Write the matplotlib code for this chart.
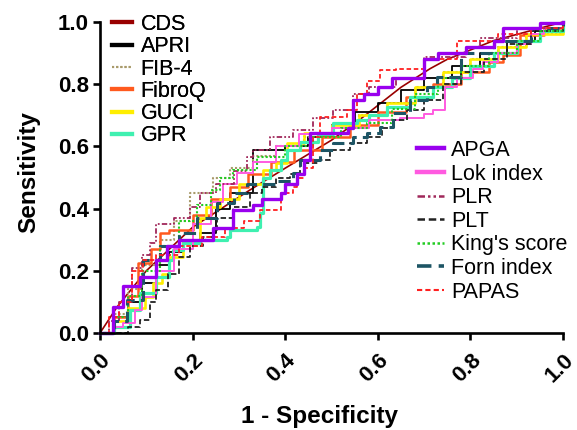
import matplotlib
matplotlib.use("Agg")
import matplotlib.pyplot as plt

plt.rcParams['font.family'] = ['Liberation Sans', 'DejaVu Sans']

# ---- data ----
cds_x = [0, 0.037, 0.1, 0.2, 0.324, 0.4, 0.5, 0.56, 0.65, 0.713, 0.75, 0.85, 0.95, 1.0]
cds_y = [0, 0.084, 0.2, 0.34, 0.46, 0.53, 0.62, 0.685, 0.79, 0.85, 0.88, 0.94, 0.98, 1.0]

apri_x = [0, 0.03, 0.06, 0.09, 0.12, 0.15, 0.18, 0.216, 0.25, 0.28, 0.33, 0.40, 0.45, 0.50, 0.55, 0.60, 0.65, 0.70, 0.76, 0.82, 0.88, 0.94, 1.0]
apri_y = [0, 0.05, 0.10, 0.16, 0.22, 0.26, 0.29, 0.32, 0.40, 0.45, 0.59, 0.60, 0.63, 0.67, 0.71, 0.74, 0.78, 0.82, 0.86, 0.90, 0.94, 0.97, 1.0]

fib4_x = [0, 0.03, 0.06, 0.09, 0.13, 0.16, 0.195, 0.244, 0.28, 0.33, 0.38, 0.44, 0.50, 0.56, 0.62, 0.68, 0.74, 0.80, 0.86, 0.92, 1.0]
fib4_y = [0, 0.06, 0.14, 0.22, 0.30, 0.36, 0.45, 0.50, 0.53, 0.57, 0.60, 0.63, 0.67, 0.70, 0.74, 0.79, 0.84, 0.88, 0.92, 0.96, 1.0]

fibroq_x = [0, 0.03, 0.06, 0.082, 0.11, 0.13, 0.15, 0.20, 0.24, 0.28, 0.32, 0.37, 0.42, 0.48, 0.54, 0.60, 0.66, 0.72, 0.78, 0.84, 0.87, 0.907, 0.96, 1.0]
fibroq_y = [0, 0.05, 0.12, 0.225, 0.27, 0.32, 0.33, 0.38, 0.43, 0.47, 0.51, 0.55, 0.59, 0.63, 0.67, 0.71, 0.76, 0.80, 0.84, 0.87, 0.894, 0.958, 0.98, 1.0]

guci_x = [0, 0.03, 0.06, 0.097, 0.115, 0.134, 0.15, 0.18, 0.216, 0.23, 0.26, 0.30, 0.352, 0.38, 0.404, 0.44, 0.50, 0.56, 0.62, 0.68, 0.74, 0.80, 0.86, 0.92, 1.0]
guci_y = [0, 0.04, 0.08, 0.116, 0.16, 0.19, 0.244, 0.30, 0.37, 0.405, 0.43, 0.48, 0.524, 0.546, 0.61, 0.643, 0.67, 0.70, 0.74, 0.79, 0.84, 0.88, 0.92, 0.96, 1.0]

gpr_x = [0, 0.03, 0.065, 0.086, 0.12, 0.15, 0.158, 0.18, 0.216, 0.274, 0.28, 0.34, 0.346, 0.352, 0.367, 0.39, 0.404, 0.432, 0.47, 0.503, 0.555, 0.58, 0.62, 0.67, 0.72, 0.76, 0.80, 0.85, 0.90, 0.95, 1.0]
gpr_y = [0, 0.02, 0.074, 0.13, 0.18, 0.235, 0.267, 0.29, 0.30, 0.31, 0.33, 0.34, 0.386, 0.50, 0.524, 0.556, 0.59, 0.614, 0.64, 0.675, 0.685, 0.70, 0.727, 0.76, 0.79, 0.82, 0.86, 0.90, 0.94, 0.97, 1.0]

apga_x = [0, 0.028, 0.05, 0.086, 0.12, 0.145, 0.17, 0.244, 0.287, 0.33, 0.35, 0.39, 0.40, 0.425, 0.44, 0.453, 0.536, 0.547, 0.57, 0.60, 0.63, 0.70, 0.73, 0.79, 0.85, 0.87, 0.95, 1.0]
apga_y = [0, 0.084, 0.15, 0.18, 0.235, 0.28, 0.30, 0.337, 0.395, 0.41, 0.43, 0.45, 0.48, 0.51, 0.556, 0.643, 0.66, 0.75, 0.77, 0.79, 0.82, 0.88, 0.90, 0.92, 0.94, 0.98, 0.997, 1.0]

lok_x = [0, 0.03, 0.05, 0.075, 0.09, 0.12, 0.16, 0.2, 0.24, 0.266, 0.295, 0.33, 0.38, 0.43, 0.50, 0.58, 0.648, 0.70, 0.72, 0.745, 0.77, 0.806, 0.827, 0.86, 0.90, 0.93, 0.96, 1.0]
lok_y = [0, 0.02, 0.032, 0.074, 0.116, 0.20, 0.27, 0.35, 0.42, 0.48, 0.515, 0.55, 0.60, 0.64, 0.66, 0.685, 0.69, 0.705, 0.717, 0.79, 0.82, 0.85, 0.87, 0.90, 0.93, 0.96, 0.98, 1.0]

plr_x = [0, 0.02, 0.04, 0.07, 0.09, 0.108, 0.122, 0.16, 0.195, 0.216, 0.25, 0.29, 0.317, 0.33, 0.367, 0.417, 0.46, 0.503, 0.547, 0.58, 0.64, 0.70, 0.79, 0.82, 0.90, 1.0]
plr_y = [0, 0.04, 0.10, 0.21, 0.25, 0.29, 0.35, 0.37, 0.405, 0.45, 0.48, 0.52, 0.566, 0.59, 0.63, 0.653, 0.69, 0.717, 0.77, 0.79, 0.82, 0.887, 0.916, 0.95, 0.98, 1.0]

plt_x = [0, 0.037, 0.06, 0.086, 0.108, 0.12, 0.147, 0.17, 0.195, 0.222, 0.244, 0.253, 0.287, 0.324, 0.35, 0.38, 0.41, 0.432, 0.47, 0.497, 0.54, 0.577, 0.61, 0.633, 0.663, 0.70, 0.74, 0.78, 0.83, 0.88, 0.93, 1.0]
plt_y = [0, 0.0, 0.02, 0.042, 0.10, 0.138, 0.19, 0.244, 0.28, 0.31, 0.33, 0.37, 0.405, 0.45, 0.47, 0.50, 0.51, 0.546, 0.556, 0.588, 0.61, 0.63, 0.66, 0.685, 0.717, 0.75, 0.80, 0.84, 0.88, 0.93, 0.97, 1.0]

king_x = [0, 0.03, 0.06, 0.09, 0.13, 0.17, 0.21, 0.24, 0.26, 0.287, 0.34, 0.40, 0.46, 0.52, 0.577, 0.63, 0.68, 0.73, 0.78, 0.84, 0.90, 0.95, 1.0]
king_y = [0, 0.05, 0.12, 0.20, 0.28, 0.36, 0.41, 0.46, 0.50, 0.524, 0.566, 0.60, 0.63, 0.66, 0.675, 0.72, 0.77, 0.82, 0.86, 0.90, 0.94, 0.97, 1.0]

forn_x = [0, 0.03, 0.058, 0.093, 0.13, 0.17, 0.21, 0.253, 0.29, 0.317, 0.38, 0.417, 0.432, 0.475, 0.503, 0.547, 0.577, 0.605, 0.633, 0.67, 0.706, 0.728, 0.78, 0.85, 0.93, 1.0]
forn_y = [0, 0.04, 0.106, 0.235, 0.28, 0.32, 0.37, 0.418, 0.45, 0.48, 0.49, 0.514, 0.556, 0.588, 0.61, 0.63, 0.643, 0.662, 0.707, 0.75, 0.79, 0.823, 0.90, 0.94, 0.98, 1.0]

papas_x = [0, 0.02, 0.04, 0.07, 0.093, 0.12, 0.17, 0.22, 0.27, 0.31, 0.346, 0.39, 0.417, 0.425, 0.44, 0.46, 0.475, 0.533, 0.555, 0.577, 0.605, 0.64, 0.70, 0.77, 0.86, 0.93, 1.0]
papas_y = [0, 0.05, 0.10, 0.20, 0.235, 0.25, 0.28, 0.31, 0.337, 0.36, 0.395, 0.45, 0.47, 0.50, 0.53, 0.63, 0.695, 0.717, 0.77, 0.81, 0.846, 0.85, 0.88, 0.94, 0.96, 0.98, 1.0]

x_ticks = [0.0, 0.2, 0.4, 0.6, 0.8, 1.0]
y_ticks = [0.0, 0.2, 0.4, 0.6, 0.8, 1.0]

W, H = 577, 430
fig = plt.figure(figsize=(W / 100, H / 100), dpi=100)
ax = fig.add_axes([100 / W, 1 - 333 / H, 463 / W, 311 / H])

def step(x, y, **kw):
    return ax.plot(x, y, drawstyle='steps-post', clip_on=False, **kw)[0]

h_cds, = ax.plot(cds_x, cds_y, color='#990000', lw=1.2, clip_on=False)
h_apri = step(apri_x, apri_y, color='black', lw=1.3)
h_fib4 = step(fib4_x, fib4_y, color='#a89a6a', lw=1.5, ls=(0, (1, 1)))
h_fibroq = step(fibroq_x, fibroq_y, color='#ff5a1e', lw=1.8)
h_guci = step(guci_x, guci_y, color='#ffee00', lw=1.9)
h_gpr = step(gpr_x, gpr_y, color='#3ff0b0', lw=2.3)
h_lok = step(lok_x, lok_y, color='#ff5ae0', lw=1.4)
h_plr = step(plr_x, plr_y, color='#a0285a', lw=1.3, ls=(0, (3, 1.2, 1, 1.2, 1, 1.2)))
h_plt = step(plt_x, plt_y, color='#222222', lw=1.3, ls=(0, (3, 1.5)))
h_king = step(king_x, king_y, color='#22cc22', lw=1.5, ls=(0, (1, 1)))
h_forn = step(forn_x, forn_y, color='#1d5565', lw=2.2, ls=(0, (4, 2)))
h_papas = step(papas_x, papas_y, color='#ff2020', lw=1.3, ls=(0, (2.5, 1.5)))
h_apga = step(apga_x, apga_y, color='#9900ee', lw=2.4)

ax.set_xlim(0, 1)
ax.set_ylim(0, 1)
ax.set_xticks(x_ticks)
ax.set_yticks(y_ticks)
ax.set_xticklabels([f"{v:.1f}" for v in x_ticks], rotation=45, ha='right', va='top',
                   rotation_mode='anchor', fontsize=16, fontweight='bold')
ax.set_yticklabels([f"{v:.1f}" for v in y_ticks], fontsize=16, fontweight='bold')
for s in ['top', 'right']:
    ax.spines[s].set_visible(False)
for s in ['left', 'bottom']:
    ax.spines[s].set_linewidth(1.9)
ax.tick_params(axis='both', direction='out', length=5, width=1.9)
ax.tick_params(axis='y', pad=3)
ax.tick_params(axis='x', pad=7)

ax.set_xlabel('1 - Specificity', fontsize=17.5, fontweight='bold')
ax.set_ylabel('Sensitivity', fontsize=17.5, fontweight='bold')
ax.xaxis.set_label_coords(0.475, -0.233)
ax.yaxis.set_label_coords(-0.13, 0.518)

leg1 = fig.legend([h_cds, h_apri, h_fib4, h_fibroq, h_guci, h_gpr],
                  ['CDS', 'APRI', 'FIB-4', 'FibroQ', 'GUCI', 'GPR'],
                  loc='upper left', bbox_to_anchor=(112 / W, 1 - 14 / H),
                  frameon=False, fontsize=15.5, labelspacing=0.06, borderpad=0,
                  borderaxespad=0, handlelength=0.95, handletextpad=0.38)
for ln, lw in zip(leg1.get_lines(), [3.0, 3.0, 1.5, 3.0, 3.0, 3.0]):
    ln.set_linewidth(lw)
fig.add_artist(leg1)
leg2 = fig.legend([h_apga, h_lok, h_plr, h_plt, h_king, h_forn, h_papas],
                  ['APGA', 'Lok index', 'PLR', 'PLT', "King's score", 'Forn index', 'PAPAS'],
                  loc='upper left', bbox_to_anchor=(417 / W, 1 - 140 / H),
                  frameon=False, fontsize=15.5, labelspacing=0.12, borderpad=0,
                  borderaxespad=0, handlelength=1.25, handletextpad=0.33)
for ln, lw in zip(leg2.get_lines(), [3.2, 3.2, 1.8, 1.8, 1.8, 2.6, 1.5]):
    ln.set_linewidth(lw)

fig.savefig('out.png', dpi=100)
